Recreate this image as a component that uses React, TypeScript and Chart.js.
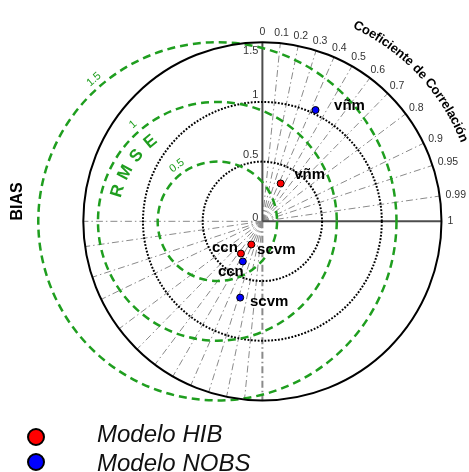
import React, { useEffect, useRef } from "react";
import { Chart, registerables } from "chart.js";
Chart.register(...registerables);

// ---- data ----
const modelNames = ["vñm", "scvm", "ccn"];
const hibX = [0.153, -0.093, -0.18];
const hibY = [0.317, -0.194, -0.27];
const nobsX = [0.445, -0.186, -0.164];
const nobsY = [0.932, -0.639, -0.336];
const seriesNames = ["Modelo HIB", "Modelo NOBS"];
const seriesColors = ["#ff0000", "#0000ff"];
const corrTicks = [0, 0.1, 0.2, 0.3, 0.4, 0.5, 0.6, 0.7, 0.8, 0.9, 0.95, 0.99, 1];
const radiusTicks = [0, 0.5, 1, 1.5];
const rmseTicks = [0.5, 1, 1.5];
const rmseCenterX = -0.377;
const maxRadius = 1.5;
const corrTitle = "Coeficiente de Correlación";
const rmseTitle = "RMSE";
const biasTitle = "BIAS";

const W = 469;
const H = 472;
const PX_PER_UNIT = 122;
const ORIGIN_X = 263;
const ORIGIN_Y = 221;

// label offsets (px) relative to each point: [series][model]
const labelOffsets = [
  [[29, -4], [25, 10], [-16, -2]],
  [[34, 0], [29, 8], [-12, 15]],
];

const F = (size: number, weight = "normal", style = "normal") =>
  `${style} ${weight} ${size}px "Liberation Sans", Arial, sans-serif`;
const GREEN = "#1f9e1f";

function arcText(ctx: CanvasRenderingContext2D, text: string, cx: number, cy: number, r: number, startDeg: number) {
  let a = (startDeg * Math.PI) / 180;
  for (const ch of text) {
    const w = ctx.measureText(ch).width;
    const da = w / r;
    const mid = a - da / 2;
    ctx.save();
    ctx.translate(cx + r * Math.cos(mid), cy - r * Math.sin(mid));
    ctx.rotate(Math.PI / 2 - mid);
    ctx.fillText(ch, 0, 0);
    ctx.restore();
    a -= da;
  }
}

const taylorPlugin = {
  id: "taylor",
  beforeDatasetsDraw(chart: any) {
    const ctx: CanvasRenderingContext2D = chart.ctx;
    const xs = chart.scales.x;
    const ys = chart.scales.y;
    const cx = xs.getPixelForValue(0);
    const cy = ys.getPixelForValue(0);
    const k = xs.getPixelForValue(1) - cx;
    const R = maxRadius * k;
    ctx.save();

    // correlation rays
    ctx.strokeStyle = "#8a8a8a";
    ctx.lineWidth = 1;
    ctx.setLineDash([7, 3, 1.5, 3]);
    for (const c of corrTicks) {
      const a = Math.acos(c);
      if (c > 0 && c < 1) {
        ctx.beginPath();
        ctx.moveTo(cx, cy);
        ctx.lineTo(cx + R * Math.cos(a), cy - R * Math.sin(a));
        ctx.stroke();
      }
      ctx.lineWidth = c === 0 ? 2 : 1;
      ctx.beginPath();
      ctx.moveTo(cx, cy);
      ctx.lineTo(cx - R * Math.cos(a), cy + R * Math.sin(a));
      ctx.stroke();
      ctx.lineWidth = 1;
    }

    // axes
    ctx.setLineDash([]);
    ctx.strokeStyle = "#4d4d4d";
    ctx.lineWidth = 2;
    ctx.beginPath();
    ctx.moveTo(cx, cy);
    ctx.lineTo(cx + R, cy);
    ctx.moveTo(cx, cy);
    ctx.lineTo(cx, cy - R);
    ctx.stroke();

    // dotted std circles
    ctx.strokeStyle = "#000";
    ctx.lineWidth = 2;
    ctx.setLineDash([1.8, 1.6]);
    for (const r of radiusTicks) {
      if (r <= 0 || r >= maxRadius) continue;
      ctx.beginPath();
      ctx.arc(cx, cy, r * k, 0, Math.PI * 2);
      ctx.stroke();
    }

    // RMSE green circles
    const gx = xs.getPixelForValue(rmseCenterX);
    ctx.strokeStyle = GREEN;
    ctx.lineWidth = 2.5;
    ctx.setLineDash([8, 5]);
    for (const r of rmseTicks) {
      ctx.beginPath();
      ctx.arc(gx, cy, r * k, 0, Math.PI * 2);
      ctx.stroke();
    }

    // outer circle
    ctx.setLineDash([]);
    ctx.strokeStyle = "#000";
    ctx.lineWidth = 2;
    ctx.beginPath();
    ctx.arc(cx, cy, R, 0, Math.PI * 2);
    ctx.stroke();

    // correlation tick labels
    ctx.fillStyle = "#333";
    ctx.font = F(10.5);
    ctx.textAlign = "center";
    ctx.textBaseline = "middle";
    for (const c of corrTicks) {
      const a = Math.acos(c);
      const t = String(c);
      const w = ctx.measureText(t).width;
      const ax = cx + (R + 6) * Math.cos(a);
      const ay = cy - (R + 6) * Math.sin(a);
      ctx.fillText(t, ax + (w / 2) * Math.cos(a), ay - 4 * Math.sin(a));
    }

    // radius labels on vertical axis
    ctx.font = F(11);
    ctx.textAlign = "right";
    for (const r of radiusTicks) {
      let y = cy - r * k - 7;
      if (r === 0) y = cy - 3;
      if (r === maxRadius) y = cy - r * k + 9;
      ctx.fillText(String(r), cx - 4, y);
    }

    // RMSE labels
    ctx.fillStyle = GREEN;
    ctx.font = F(11);
    ctx.textAlign = "center";
    for (const r of rmseTicks) {
      const a = ((r === 0.5 ? 126 : 131) * Math.PI) / 180;
      const rr = r * k + 9;
      ctx.save();
      ctx.translate(gx + rr * Math.cos(a), cy - rr * Math.sin(a));
      ctx.rotate(Math.PI / 2 - a);
      ctx.fillText(String(r), 0, 0);
      ctx.restore();
    }
    ctx.font = F(17, "bold");
    for (let i = 0; i < rmseTitle.length; i++) {
      const a = ((163 - 11 * i) * Math.PI) / 180;
      const rr = 104;
      ctx.save();
      ctx.translate(gx + rr * Math.cos(a), cy - rr * Math.sin(a));
      ctx.rotate(Math.PI / 2 - a);
      ctx.fillText(rmseTitle[i], 0, 0);
      ctx.restore();
    }

    // correlation title along arc
    ctx.fillStyle = "#000";
    ctx.font = F(13, "bold");
    arcText(ctx, corrTitle, cx, cy, R + 38, 65);

    // BIAS
    ctx.save();
    ctx.font = F(16, "bold");
    ctx.translate(18, cy - 20);
    ctx.rotate(-Math.PI / 2);
    ctx.fillText(biasTitle, 0, 0);
    ctx.restore();

    ctx.restore();
  },
  afterDatasetsDraw(chart: any) {
    const ctx: CanvasRenderingContext2D = chart.ctx;
    ctx.save();
    ctx.fillStyle = "#000";
    ctx.font = F(15, "bold");
    ctx.textAlign = "center";
    ctx.textBaseline = "alphabetic";
    chart.data.datasets.forEach((ds: any, si: number) => {
      const meta = chart.getDatasetMeta(si);
      meta.data.forEach((el: any, j: number) => {
        const off = labelOffsets[si][j];
        ctx.fillText(modelNames[j], el.x + off[0], el.y + off[1]);
      });
    });

    // legend
    seriesNames.forEach((name, i) => {
      const my = 437 + i * 25;
      ctx.beginPath();
      ctx.arc(36, my, 8, 0, Math.PI * 2);
      ctx.fillStyle = seriesColors[i];
      ctx.fill();
      ctx.lineWidth = 2;
      ctx.strokeStyle = "#000";
      ctx.stroke();
      ctx.fillStyle = "#111";
      ctx.font = F(24, "normal", "italic");
      ctx.textAlign = "left";
      ctx.fillText(name, 97, 442 + i * 29);
    });
    ctx.restore();
  },
};

export default function App() {
  const ref = useRef<HTMLCanvasElement>(null);
  useEffect(() => {
    if (!ref.current) return;
    const mk = (xsArr: number[], ysArr: number[]) => xsArr.map((x, i) => ({ x, y: ysArr[i] }));
    const chart = new Chart(ref.current, {
      type: "scatter",
      data: {
        datasets: [
          {
            label: seriesNames[0],
            data: mk(hibX, hibY),
            backgroundColor: seriesColors[0],
            borderColor: "#000",
            borderWidth: 1,
            pointRadius: 3.5,
            clip: false,
          },
          {
            label: seriesNames[1],
            data: mk(nobsX, nobsY),
            backgroundColor: seriesColors[1],
            borderColor: "#000",
            borderWidth: 1,
            pointRadius: 3.5,
            clip: false,
          },
        ],
      },
      options: {
        responsive: false,
        animation: false,
        devicePixelRatio: 1,
        layout: { padding: 0 },
        plugins: { legend: { display: false }, tooltip: { enabled: false }, title: { display: false } },
        scales: {
          x: { type: "linear", display: false, min: -ORIGIN_X / PX_PER_UNIT, max: (W - ORIGIN_X) / PX_PER_UNIT },
          y: { type: "linear", display: false, min: -(H - ORIGIN_Y) / PX_PER_UNIT, max: ORIGIN_Y / PX_PER_UNIT },
        },
      },
      plugins: [taylorPlugin],
    } as any);
    return () => chart.destroy();
  }, []);
  return (
    <div style={{ position: "fixed", left: 0, top: 0, width: W, height: H, background: "#fff" }}>
      <canvas ref={ref} width={W} height={H} style={{ display: "block" }} />
    </div>
  );
}
